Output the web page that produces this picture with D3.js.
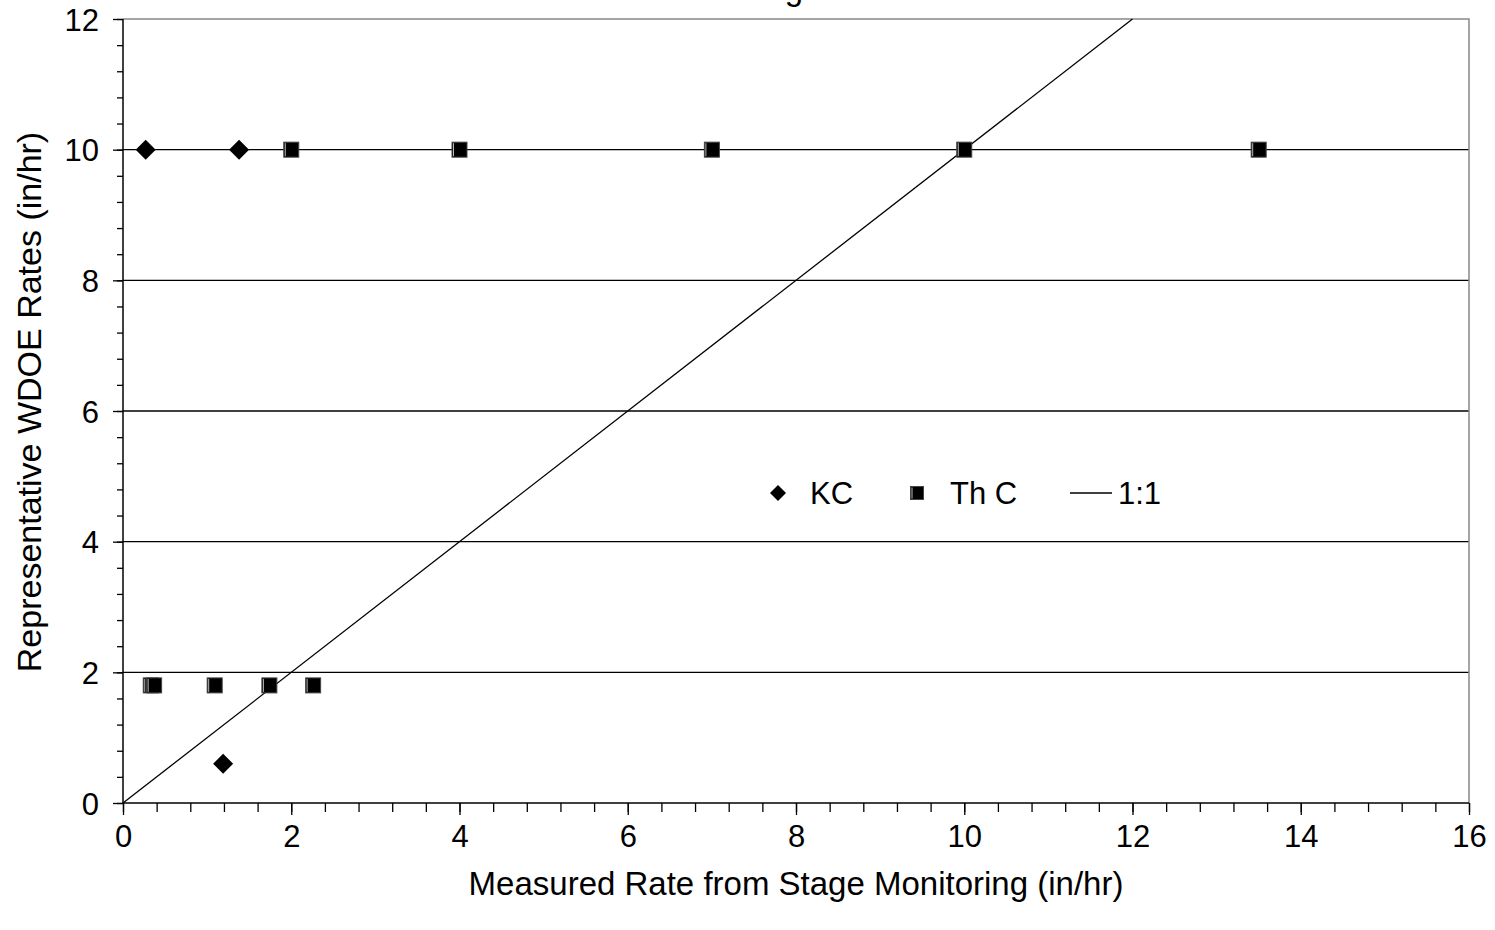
<!DOCTYPE html>
<html>
<head>
<meta charset="utf-8">
<script src="https://cdn.jsdelivr.net/npm/d3@7"></script>
<style>
  body { margin: 0; background: #fff; }
  text { font-family: "Liberation Sans", Arial, sans-serif; fill: #000; }
</style>
</head>
<body>
<div id="chart"></div>
<script>
// series
const kcX = [0.27, 1.38, 1.19];
const kcY = [10, 10, 0.6];
const thcX = [2.0, 4.0, 7.0, 10.0, 13.5, 0.33, 0.37, 1.09, 1.74, 2.26];
const thcY = [10, 10, 10, 10, 10, 1.8, 1.8, 1.8, 1.8, 1.8];
const oneToOne = [0, 12];
const xTicks = [0, 2, 4, 6, 8, 10, 12, 14, 16];
const yTicks = [0, 2, 4, 6, 8, 10, 12];
const legendLabels = ["KC", "Th C", "1:1"];

const width = 1495;
const height = 930;
const margin = { top: 19, right: 26, bottom: 127, left: 123 };
const tickFont = "31px";
const titleFont = "33px";

const svg = d3.select("#chart")
  .append("svg")
  .attr("width", width)
  .attr("height", height);

const x = d3.scaleLinear().domain([0, 16]).range([margin.left, width - margin.right]);
const y = d3.scaleLinear().domain([0, 12]).range([height - margin.bottom, margin.top]);

// title is cut off at the top edge of the picture, only descenders show
svg.append("text")
  .attr("x", 803)
  .attr("y", 0)
  .attr("text-anchor", "end")
  .style("font-size", titleFont)
  .text("Monitoring");

// horizontal gridlines
svg.append("g")
  .selectAll("line")
  .data(yTicks.filter(d => d > 0 && d < 12))
  .enter()
  .append("line")
  .attr("x1", x(0))
  .attr("x2", x(16))
  .attr("y1", d => y(d))
  .attr("y2", d => y(d))
  .attr("stroke", "#000")
  .attr("stroke-width", 1.3);

// top and right border (gray)
svg.append("path")
  .attr("d", `M${x(0)},${y(12)}H${x(16)}V${y(0)}`)
  .attr("fill", "none")
  .attr("stroke", "#888")
  .attr("stroke-width", 1.5);

// minor ticks every 0.4
const minorX = d3.range(0, 16.001, 0.4).map(d => +d.toFixed(1));
const minorY = d3.range(0, 12.001, 0.4).map(d => +d.toFixed(1));

const xAxis = svg.append("g")
  .attr("transform", `translate(0,${y(0)})`);
xAxis.call(d3.axisBottom(x).tickValues(minorX).tickSize(9).tickFormat(""))
  .call(g => g.select(".domain").remove());
xAxis.append("g").call(d3.axisBottom(x).tickValues(xTicks).tickSize(12).tickPadding(10).tickFormat(d3.format("d")))
  .call(g => g.select(".domain").remove())
  .call(g => g.selectAll("text").style("font-size", tickFont).attr("fill", "#000").style("font-family", "Liberation Sans, Arial, sans-serif"));
xAxis.selectAll("line").attr("stroke", "#000").attr("stroke-width", 1.3);

const yAxis = svg.append("g")
  .attr("transform", `translate(${x(0)},0)`);
yAxis.call(d3.axisLeft(y).tickValues(minorY).tickSize(6).tickFormat(""))
  .call(g => g.select(".domain").remove());
yAxis.append("g").call(d3.axisLeft(y).tickValues(yTicks).tickSize(10).tickPadding(14).tickFormat(d3.format("d")))
  .call(g => g.select(".domain").remove())
  .call(g => g.selectAll("text").style("font-size", tickFont).attr("fill", "#000").attr("dy", "0.36em").style("font-family", "Liberation Sans, Arial, sans-serif"));
yAxis.selectAll("line").attr("stroke", "#000").attr("stroke-width", 1.3);

// axis lines
svg.append("line")
  .attr("x1", x(0)).attr("x2", x(16))
  .attr("y1", y(0)).attr("y2", y(0))
  .attr("stroke", "#000").attr("stroke-width", 1.5);
svg.append("line")
  .attr("x1", x(0)).attr("x2", x(0))
  .attr("y1", y(0)).attr("y2", y(12))
  .attr("stroke", "#000").attr("stroke-width", 1.5);

// 1:1 line, ends where it meets the top of the plot
svg.append("line")
  .attr("x1", x(oneToOne[0]))
  .attr("y1", y(oneToOne[0]))
  .attr("x2", x(oneToOne[1]))
  .attr("y2", y(oneToOne[1]))
  .attr("stroke", "#000")
  .attr("stroke-width", 1.3);

const diamond = (cx, cy, r) => `M${cx},${cy - r}L${cx + r},${cy}L${cx},${cy + r}L${cx - r},${cy}Z`;

const drawSquare = (g, cx, cy, s) => {
  g.append("rect")
    .attr("x", cx - s / 2).attr("y", cy - s / 2)
    .attr("width", s).attr("height", s)
    .attr("fill", "#000")
    .attr("stroke", "#444")
    .attr("stroke-width", 1);
  g.append("line")
    .attr("x1", cx - s / 2 + 1.5).attr("x2", cx - s / 2 + 1.5)
    .attr("y1", cy - s / 2 + 1).attr("y2", cy + s / 2 - 1)
    .attr("stroke", "#bbb").attr("stroke-width", 1);
};

// KC points
svg.append("g")
  .selectAll("path")
  .data(kcX.map((d, i) => [d, kcY[i]]))
  .enter()
  .append("path")
  .attr("d", d => diamond(x(d[0]), y(d[1]), 10))
  .attr("fill", "#000");

// Th C points
const thcG = svg.append("g");
thcX.forEach((d, i) => drawSquare(thcG, x(d), y(thcY[i]), 15));

// legend
const legend = svg.append("g").attr("transform", "translate(0,493)");
legend.append("path").attr("d", diamond(778, 0, 8)).attr("fill", "#000");
legend.append("text").attr("x", 810).attr("y", 0).attr("dy", "0.36em")
  .style("font-size", tickFont).text(legendLabels[0]);
drawSquare(legend, 917, 0, 13);
legend.append("text").attr("x", 950).attr("y", 0).attr("dy", "0.36em")
  .style("font-size", tickFont).text(legendLabels[1]);
legend.append("line").attr("x1", 1070).attr("x2", 1112).attr("y1", 0).attr("y2", 0)
  .attr("stroke", "#000").attr("stroke-width", 1.3);
legend.append("text").attr("x", 1118).attr("y", 0).attr("dy", "0.36em")
  .style("font-size", tickFont).text(legendLabels[2]);

// axis titles
svg.append("text")
  .attr("x", (x(0) + x(16)) / 2)
  .attr("y", 895)
  .attr("text-anchor", "middle")
  .style("font-size", titleFont)
  .text("Measured Rate from Stage Monitoring (in/hr)");

svg.append("text")
  .attr("transform", `translate(41,402) rotate(-90)`)
  .attr("text-anchor", "middle")
  .style("font-size", "34px")
  .text("Representative WDOE Rates (in/hr)");
</script>
</body>
</html>
